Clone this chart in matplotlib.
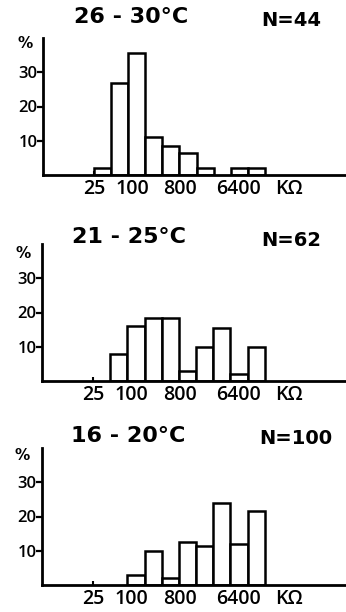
from collections import namedtuple
import matplotlib
matplotlib.use('Agg')
import matplotlib.pyplot as plt

plt.rcParams['font.family'] = ['Open Sans', 'DejaVu Sans']

# resistance classes (kOhm), doubling each bin
bin_edges = [25, 50, 100, 200, 400, 800, 1600, 3200, 6400, 12800, 25600]

# percentage of cells per class at each temperature
pct_26_30 = [2, 27, 35.5, 11, 8.5, 6.5, 2, 0, 2, 2]
pct_21_25 = [0, 8, 16, 18.5, 18.5, 3, 10, 15.5, 2, 10]
pct_16_20 = [0, 0, 3, 10, 2, 12.5, 11.5, 24, 12, 21.5]

temp_labels = ['26 - 30°C', '21 - 25°C', '16 - 20°C']
n_labels = ['N=44', 'N=62', 'N=100']

x_ticks = [25, 100, 800, 6400]
x_tick_labels = ['25', '100', '800', '6400']
y_ticks = [10, 20, 30]

W, H = 346, 612
HEAD = ['DejaVu Sans']

# pixel layout: axis left, baseline, title centre, N centre, % centre
Panel = namedtuple('Panel', 'left base title n pct pcts')
PANELS = [
    Panel(43, 175, (131, 17), (291, 20), (25, 44), pct_26_30),
    Panel(42, 381, (129, 237), (291, 241), (23, 253), pct_21_25),
    Panel(42, 585, (128, 436), (296, 439), (22, 456), pct_16_20),
]
LABEL_NUDGE = [0.0, 0.25, 0.05, 0.47]  # octaves, labels sit a bit right of edges

fig = plt.figure(figsize=(W / 100, H / 100), dpi=100)

for i, p in enumerate(PANELS):
    ax = fig.add_axes([p.left / W, 1 - p.base / H, (345 - p.left) / W, 137 / H])
    ax.set_xscale('log', base=2)
    ax.set_xlim(25 * 2 ** -2.98, 25 * 2 ** 14.68)
    ax.set_ylim(0, 40)

    lefts = [e for e, v in zip(bin_edges[:-1], p.pcts) if v > 0]
    widths = [b - a for a, b, v in zip(bin_edges[:-1], bin_edges[1:], p.pcts) if v > 0]
    heights = [v for v in p.pcts if v > 0]
    ax.bar(lefts, heights, width=widths, align='edge', facecolor='white',
           edgecolor='black', linewidth=1.8, zorder=2)

    for side in ('top', 'right'):
        ax.spines[side].set_visible(False)
    for side in ('left', 'bottom'):
        ax.spines[side].set_linewidth(2.0)
        ax.spines[side].set_zorder(3)

    ax.set_yticks(y_ticks)
    ax.set_yticklabels([str(t) for t in y_ticks], fontweight='semibold')
    ax.tick_params(axis='y', direction='out', length=4, width=1.6, pad=0,
                   labelsize=12)

    # only a short mark at 25 on the x axis, labels drawn separately
    ax.set_xticks([], minor=False)
    ax.set_xticks([25], minor=True)
    ax.set_xticklabels([], minor=True)
    ax.tick_params(axis='x', which='minor', direction='in', length=3, width=1.5)
    ax.tick_params(axis='x', which='major', length=0)

    for val, lab, nudge in zip(x_ticks, x_tick_labels, LABEL_NUDGE):
        ax.annotate(lab, xy=(val * 2 ** nudge, 0), xycoords=('data', 'axes fraction'),
                    xytext=(0, -10), textcoords='offset points',
                    ha='center', va='center', fontsize=14, fontweight='semibold')
    ax.annotate('KΩ', xy=(25 * 2 ** 11.4, 0), xycoords=('data', 'axes fraction'),
                xytext=(0, -10), textcoords='offset points',
                ha='center', va='center', fontsize=14, fontweight='semibold')

    fig.text(p.title[0] / W, 1 - p.title[1] / H, temp_labels[i], ha='center',
             va='center', fontsize=16, fontweight='bold', family=HEAD)
    fig.text(p.n[0] / W, 1 - p.n[1] / H, n_labels[i], ha='center',
             va='center', fontsize=14, fontweight='bold', family=HEAD)
    fig.text(p.pct[0] / W, 1 - p.pct[1] / H, '%', ha='center',
             va='center', fontsize=11, fontweight='bold', family=HEAD)

fig.savefig('out.png', dpi=100, facecolor='white')
